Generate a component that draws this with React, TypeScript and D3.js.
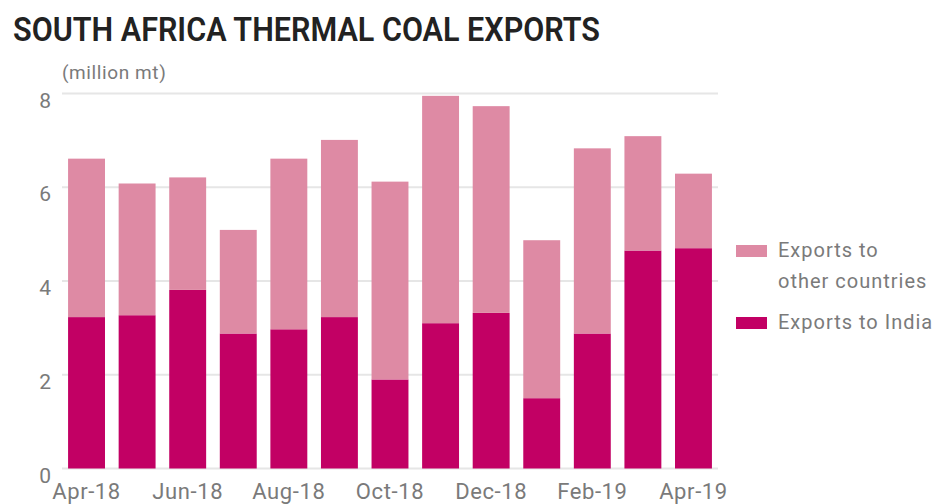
import React from "react";
import * as d3 from "d3";

const months = ["Apr-18","May-18","Jun-18","Jul-18","Aug-18","Sep-18","Oct-18","Nov-18","Dec-18","Jan-19","Feb-19","Mar-19","Apr-19"];
const india = [3.23, 3.27, 3.81, 2.88, 2.97, 3.23, 1.90, 3.10, 3.32, 1.50, 2.88, 4.65, 4.70];
const other = [3.38, 2.81, 2.40, 2.21, 3.64, 3.78, 4.22, 4.85, 4.41, 3.37, 3.95, 2.44, 1.59];
const yTicks = [0, 2, 4, 6, 8];
const xTickLabels = ["Apr-18","Jun-18","Aug-18","Oct-18","Dec-18","Feb-19","Apr-19"];
const seriesKeys = ["india", "other"];
const seriesColors = { india: "#C20064", other: "#DE8AA4" };
const legendItems = [
  { key: "other", lines: ["Exports to", "other countries"] },
  { key: "india", lines: ["Exports to India"] },
];

const W = 937, H = 504;
const font = "Roboto, 'Noto Sans', sans-serif";

export default function App() {
  const x = d3.scaleBand<string>().domain(months).range([62, 718]).paddingInner(0.27).paddingOuter(0.12);
  const y = d3.scaleLinear().domain([0, 8]).range([468.5, 93.5]);
  const table = months.map((m, i) => ({ month: m, india: india[i], other: other[i] }));
  const stacked = d3.stack<any>().keys(seriesKeys)(table);

  return (
    <div style={{ position: "absolute", left: 0, top: 0 }}>
      <svg width={W} height={H} style={{ display: "block", background: "#fff" }}>
        <text x={13} y={40.5} fontFamily={font} fontWeight={600} fontSize={34} fill="#222"
          textLength={587} lengthAdjust="spacingAndGlyphs">SOUTH AFRICA THERMAL COAL EXPORTS</text>
        <text x={62} y={79} fontFamily={font} fontSize={19} fill="#7a7a7a" letterSpacing={0.6}>(million mt)</text>
        {yTicks.map((t) => (
          <g key={t}>
            <line x1={62} x2={718} y1={y(t)} y2={y(t)} stroke="#e6e6e6" strokeWidth={2} />
            <text x={51} y={y(t) + 14} textAnchor="end" fontFamily={font} fontSize={21} fill="#7a7a7a">{t}</text>
          </g>
        ))}
        {stacked.map((s) => (
          <g key={s.key} fill={(seriesColors as any)[s.key]}>
            {s.map((d: any, i: number) => (
              <rect key={i} x={x(d.data.month)} width={x.bandwidth()} y={y(d[1])} height={y(d[0]) - y(d[1])} />
            ))}
          </g>
        ))}
        {xTickLabels.map((m) => (
          <text key={m} x={(x(m) as number) + x.bandwidth() / 2} y={499} textAnchor="middle"
            fontFamily={font} fontSize={22} fill="#7a7a7a" letterSpacing={0.6}>{m}</text>
        ))}
        {legendItems.map((item, i) => {
          const top = i === 0 ? 245 : 317;
          return (
            <g key={item.key}>
              <rect x={736} y={top} width={31} height={12} fill={(seriesColors as any)[item.key]} />
              {item.lines.map((ln, j) => (
                <text key={j} x={778} y={top + 12 + j * 31} fontFamily={font} fontSize={20} fill="#7a7a7a" letterSpacing={1}>{ln}</text>
              ))}
            </g>
          );
        })}
      </svg>
    </div>
  );
}
